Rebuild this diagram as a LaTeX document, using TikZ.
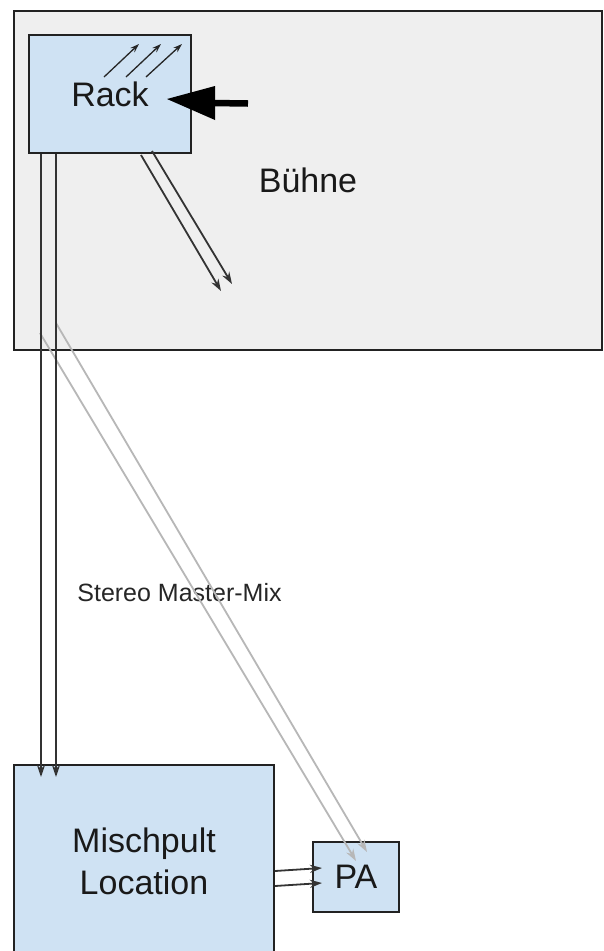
\documentclass[tikz,border=0pt]{standalone}
\usepackage{fontspec}
\setmainfont{Liberation Sans}
\usetikzlibrary{arrows.meta}
\definecolor{stage}{HTML}{EFEFEF}
\definecolor{boxblue}{HTML}{CFE2F3}
\definecolor{edgecol}{HTML}{222222}
\definecolor{lightline}{HTML}{B7B7B7}
\begin{document}
\begin{tikzpicture}[x=1pt,y=-1pt,
  box/.style={draw=edgecol, line width=2pt, inner sep=0pt, align=center,
    text=black!90, font=\fontsize{34}{42}\selectfont},
  wire/.style={draw=black!80, line width=1.8pt, -{Stealth[length=12pt,width=8pt]}},
  grey wire/.style={draw=lightline, line width=1.8pt, -{Stealth[length=12pt,width=8pt]}},
  small wire/.style={draw=black!85, line width=1.3pt, -{Stealth[length=9pt,width=6pt]}},
  lbl/.style={font=\fontsize{25}{30}\selectfont, text=black!85, inner sep=0pt}]
\useasboundingbox (0,0) rectangle (604,951);
\fill[white] (0,0) rectangle (604,951);

\node[box, fill=stage, minimum width=588pt, minimum height=339pt] (stage) at (308,180.5) {Bühne};
\node[box, fill=boxblue, minimum width=162pt, minimum height=118pt] (rack) at (110,94) {Rack};
\node[box, fill=boxblue, minimum width=260pt, minimum height=193pt] (mix) at (144,861.5) {Mischpult\\Location};
\node[box, fill=boxblue, minimum width=86pt, minimum height=70pt] (pa) at (356,877) {PA};

% label
\node[lbl, anchor=base] (smm) at (179.5,601) {Stereo Master-Mix};

% grey lines to PA
\draw[grey wire] ([xshift=27pt,yshift=18pt]stage.south west) -- ([xshift=44pt,yshift=-20pt]pa.north west);
\draw[grey wire] ([xshift=43pt,yshift=28pt]stage.south west) -- ([xshift=55pt,yshift=-11pt]pa.north west);

% vertical lines rack -> mix
\draw[wire] ([xshift=13pt]rack.south west) -- ([xshift=28pt,yshift=-13pt]mix.north west);
\draw[wire] ([xshift=28pt]rack.south west) -- ([xshift=43pt,yshift=-13pt]mix.north west);

% diagonal lines out of rack
\coordinate (d1) at ([xshift=193pt,yshift=-137pt]rack.south west);
\coordinate (d2) at ([xshift=204pt,yshift=-130pt]rack.south west);
\draw[wire] ([xshift=113pt,yshift=-1pt]rack.south west) -- (d1);
\draw[wire] ([xshift=124pt,yshift=3pt]rack.south west) -- (d2);

% small arrows inside rack
\draw[small wire] ([xshift=76pt,yshift=-43pt]rack.north west) -- ([xshift=111pt,yshift=-10pt]rack.north west);
\draw[small wire] ([xshift=98pt,yshift=-43pt]rack.north west) -- ([xshift=133pt,yshift=-10pt]rack.north west);
\draw[small wire] ([xshift=118pt,yshift=-43pt]rack.north west) -- ([xshift=154pt,yshift=-10pt]rack.north west);

% big arrow into rack
\coordinate (bigtip) at ([xshift=-25pt,yshift=-5pt]rack.east);
\coordinate (bigbase) at ([xshift=23pt,yshift=-9pt]rack.east);
\coordinate (bigtail) at ([xshift=56pt,yshift=-9.5pt]rack.east);
\draw[black, line width=6.5pt] ([xshift=-3pt]bigbase) -- (bigtail);
\fill[black] (bigtip) -- ([yshift=17pt]bigbase) -- ([yshift=-17pt]bigbase) -- cycle;

% mix -> PA
\draw[wire] ([yshift=-9.5pt]mix.east) -- ([xshift=10pt,yshift=9pt]pa.west);
\draw[wire] ([yshift=-24.5pt]mix.east) -- ([xshift=10pt,yshift=-6pt]pa.west);
\end{tikzpicture}
\end{document}
